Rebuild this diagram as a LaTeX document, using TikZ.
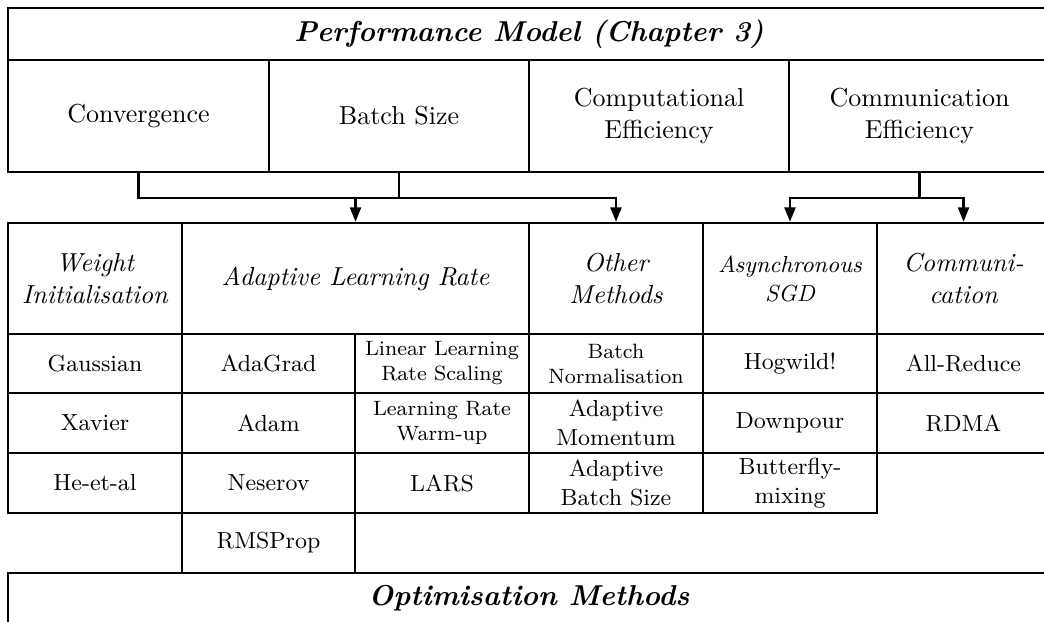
\documentclass[tikz,border=0pt]{standalone}
\usetikzlibrary{arrows.meta}
\tikzset{
  box/.style={draw, line width=0.95pt, inner sep=0pt, align=center},
  ttl/.style={font=\fontsize{11.5}{14}\selectfont\bfseries\itshape},
  big/.style={font=\fontsize{10.4}{13}\selectfont},
  mid/.style={font=\fontsize{9.3}{11.6}\selectfont},
  sml/.style={font=\fontsize{8.3}{10}\selectfont},
  arr/.style={line width=0.95pt, -{Triangle[length=5.8pt,width=4.4pt]}},
}
% cell: name, style, x1, y1, x2, y2, text (coordinates in pixel units)
\newcommand\tcell[7]{%
  \node[box, #2, minimum width={(#5-#3)*0.4pt}, minimum height={(#6-#4)*0.4pt}]
    (#1) at ({(#3+#5)/2},{(#4+#6)/2}) {#7};}
\begin{document}
\begin{tikzpicture}[x=0.4pt, y=-0.4pt]
\useasboundingbox (0,0) rectangle (1044,621);
\clip (0,0) rectangle (1044,621);

% performance model block
\tcell{perf}{ttl}{8}{8}{1050}{60}{Performance Model (Chapter 3)}
\tcell{conv}{big}{8}{60}{269}{172}{Convergence}
\tcell{batch}{big}{269}{60}{529}{172}{Batch Size}
\tcell{comp}{big}{529}{60}{789}{172}{Computational\\Efficiency}
\tcell{comm}{big}{789}{60}{1050}{172}{Communication\\Efficiency}

% method headers
\tcell{wi}{big}{8}{223}{182}{334}{\itshape Weight\\\itshape Initialisation}
\tcell{alr}{big}{182}{223}{529}{334}{\itshape Adaptive Learning Rate}
\tcell{oth}{big}{529}{223}{703}{334}{\itshape Other\\\itshape Methods}
\tcell{async}{mid}{703}{223}{877}{334}{\itshape Asynchronous\\\itshape SGD}
\tcell{cmu}{big}{877}{223}{1050}{334}{\itshape Communi-\\\itshape cation}

% first row of methods
\tcell{gauss}{mid}{8}{334}{182}{393}{Gaussian}
\tcell{adagrad}{mid}{182}{334}{355}{393}{AdaGrad}
\tcell{linlr}{sml}{355}{334}{529}{393}{Linear Learning\\Rate Scaling}
\tcell{bnorm}{sml}{529}{334}{703}{393}{Batch\\Normalisation}
\tcell{hog}{mid}{703}{334}{877}{393}{Hogwild!}
\tcell{allred}{mid}{877}{334}{1050}{393}{All-Reduce}

% second row
\tcell{xav}{mid}{8}{393}{182}{453}{Xavier}
\tcell{adam}{mid}{182}{393}{355}{453}{Adam}
\tcell{warm}{sml}{355}{393}{529}{453}{Learning Rate\\Warm-up}
\tcell{amom}{mid}{529}{393}{703}{453}{Adaptive\\Momentum}
\tcell{down}{mid}{703}{393}{877}{453}{Downpour}
\tcell{rdma}{mid}{877}{393}{1050}{453}{RDMA}

% third row
\tcell{he}{mid}{8}{453}{182}{513}{He-et-al}
\tcell{nes}{mid}{182}{453}{355}{513}{Neserov}
\tcell{lars}{mid}{355}{453}{529}{513}{LARS}
\tcell{abs}{mid}{529}{453}{703}{513}{Adaptive\\Batch Size}
\tcell{bfly}{mid}{703}{453}{877}{513}{Butterfly-\\mixing}

% fourth row
\tcell{rms}{mid}{182}{513}{355}{573}{RMSProp}

% optimisation block
\tcell{opt}{ttl}{8}{573}{1050}{624}{Optimisation Methods}

% connectors
\draw[arr] (conv.south) -- ++(0,25) -| (oth.north);
\draw[arr] (batch.south) -- ++(0,25) -| (alr.north);
\draw[arr] (comm.south) -- ++(0,25) -| (async.north);
\draw[arr] (comm.south) -- ++(0,25) -| (cmu.north);
\end{tikzpicture}
\end{document}
